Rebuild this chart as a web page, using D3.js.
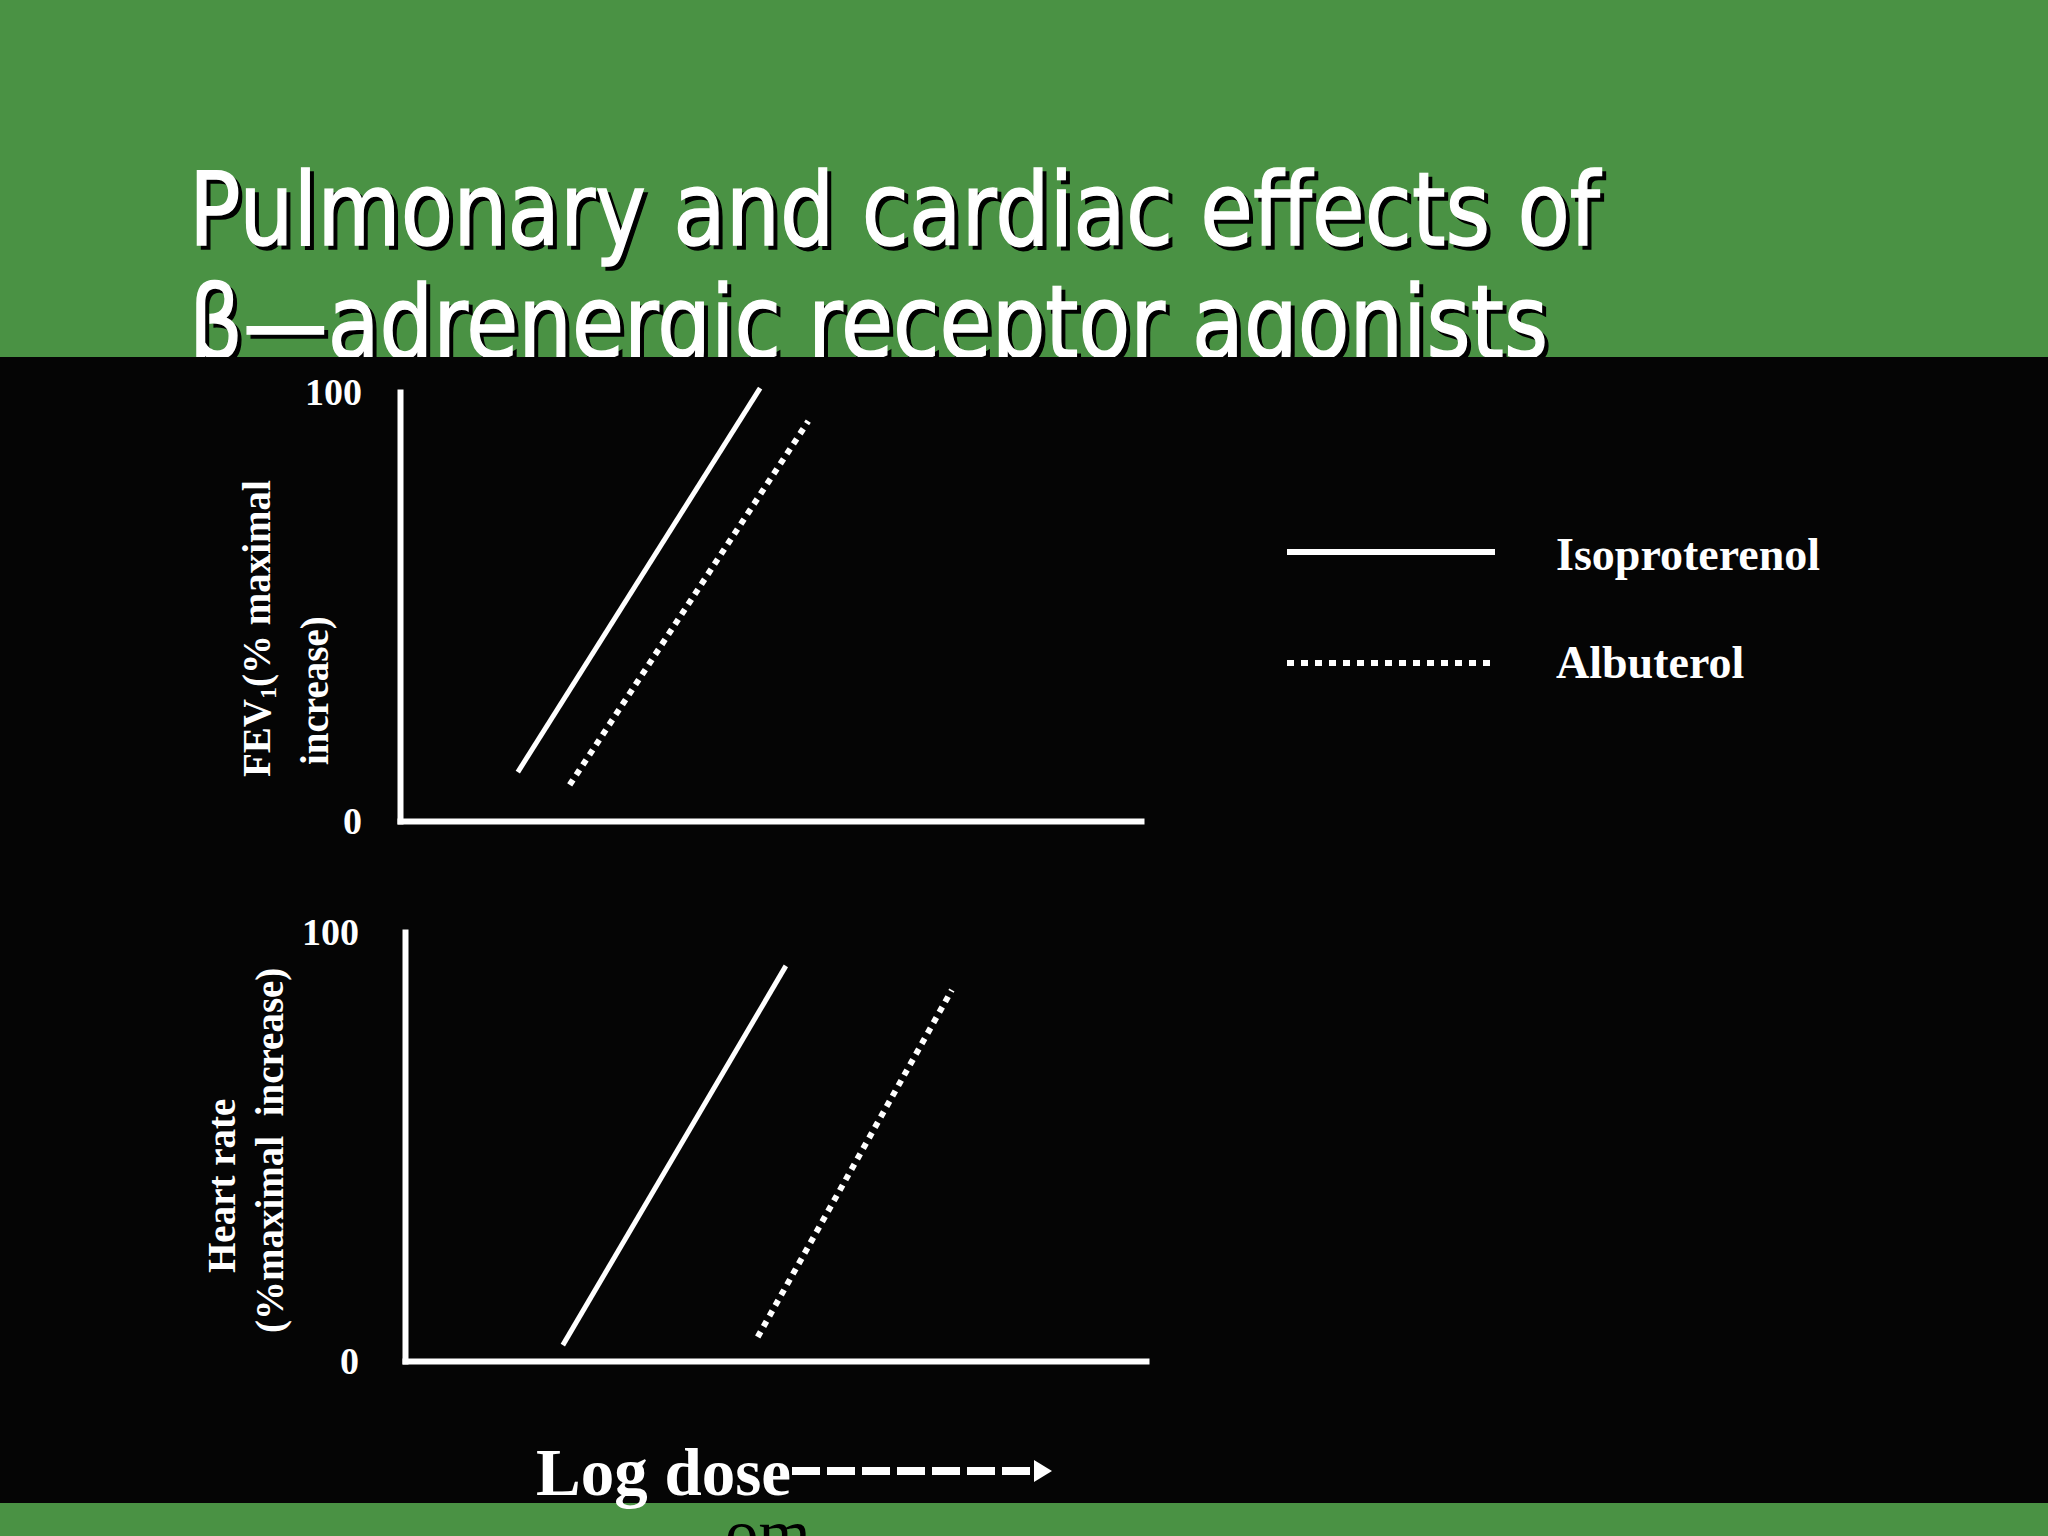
<!DOCTYPE html>
<html>
<head>
<meta charset="utf-8">
<script src="https://cdn.jsdelivr.net/npm/d3@7"></script>
<style>
  html, body { margin: 0; padding: 0; background: #4a9244; }
  svg { display: block; }
</style>
</head>
<body>
<script>
// ---- data ----
const titleLines = ["Pulmonary and cardiac effects of", "\u03B2\u2014adrenergic receptor agonists"];
const seriesNames = ["Isoproterenol", "Albuterol"];
const yTickValues = [0, 100];
// log-dose positions (arbitrary units 0..10) and % maximal increase, end points of each line
const fevIsoproterenolX = [1.59, 4.86];
const fevIsoproterenolY = [11.4, 100.9];
const fevAlbuterolX = [2.29, 5.51];
const fevAlbuterolY = [8.4, 93.2];
const hrIsoproterenolX = [2.13, 5.14];
const hrIsoproterenolY = [3.7, 92.1];
const hrAlbuterolX = [4.76, 7.38];
const hrAlbuterolY = [5.6, 86.5];

const W = 2048, H = 1536;
const green = "#4a9244";
const serif = "'Liberation Serif', 'Times New Roman', serif";

const svg = d3.select("body").append("svg").attr("width", W).attr("height", H);
svg.append("rect").attr("width", W).attr("height", H).attr("fill", green);

// title (drawn before the black panel so the panel clips its second line)
const titleG = svg.append("g");
const titleYs = [245, 358];
const titleLens = [1411, 1359];
titleLines.forEach((t, i) => {
  [["#000", 4], ["#fff", 0]].forEach(([c, o]) => {
    titleG.append("text")
      .attr("x", 189 + o).attr("y", titleYs[i] + o)
      .attr("textLength", titleLens[i]).attr("lengthAdjust", "spacingAndGlyphs")
      .attr("font-family", "'DejaVu Sans', sans-serif")
      .attr("font-size", 102)
      .attr("fill", c)
      .attr("stroke", c).attr("stroke-width", 1.5)
      .text(t);
  });
});

// black panel
svg.append("rect").attr("x", 0).attr("y", 357).attr("width", W).attr("height", 1503 - 357).attr("fill", "#050505");

function panel(xRange, yRange, pad, isoX, isoY, albX, albY, labelLines) {
  const x = d3.scaleLinear().domain([0, 10]).range(xRange);
  const y = d3.scaleLinear().domain([0, 100]).range(yRange);
  const g = svg.append("g");

  const xAxis = g.append("g").attr("transform", `translate(0,${yRange[0]})`)
    .call(d3.axisBottom(x).tickValues([]).tickSizeOuter(0));
  const yAxis = g.append("g").attr("transform", `translate(${xRange[0]},0)`)
    .call(d3.axisLeft(y).tickValues(yTickValues).tickSize(0).tickPadding(pad).tickFormat(d3.format("d")));
  [xAxis, yAxis].forEach(a => {
    a.select(".domain").attr("stroke", "#fff").attr("stroke-width", 6).attr("stroke-linecap", "square");
    a.selectAll("text").attr("fill", "#fff").attr("font-family", serif)
      .attr("font-weight", "bold").attr("font-size", 38);
  });

  const line = d3.line().x(d => x(d[0])).y(d => y(d[1]));
  g.append("path").datum(d3.zip(isoX, isoY)).attr("d", line)
    .attr("fill", "none").attr("stroke", "#fff").attr("stroke-width", 5);
  g.append("path").datum(d3.zip(albX, albY)).attr("d", line)
    .attr("fill", "none").attr("stroke", "#fff").attr("stroke-width", 6)
    .attr("stroke-dasharray", "6,6");

  labelLines.forEach(l => {
    const t = g.append("text")
      .attr("transform", `translate(${l.x},${l.y}) rotate(-90)`)
      .attr("fill", "#fff").attr("font-family", serif).attr("font-weight", "bold")
      .attr("font-size", 39).style("white-space", "pre");
    l.parts.forEach(p => {
      const ts = t.append("tspan").text(p.t);
      if (p.sub) ts.attr("font-size", 24).attr("dy", 6);
      if (p.after) ts.attr("dy", -6);
    });
  });
}

panel([400, 1141], [821, 392], 38, fevIsoproterenolX, fevIsoproterenolY, fevAlbuterolX, fevAlbuterolY, [
  { x: 270, y: 777, parts: [{ t: "FEV" }, { t: "1", sub: true }, { t: "(% maximal", after: true }] },
  { x: 328, y: 765, parts: [{ t: "increase)" }] }
]);
panel([405, 1146], [1361, 932], 46, hrIsoproterenolX, hrIsoproterenolY, hrAlbuterolX, hrAlbuterolY, [
  { x: 235, y: 1273, parts: [{ t: "Heart rate" }] },
  { x: 283, y: 1333, parts: [{ t: "(%maximal  increase)" }] }
]);

// legend
const legend = svg.append("g");
const legYs = [552, 663];
seriesNames.forEach((n, i) => {
  legend.append("line").attr("x1", 1287).attr("x2", 1495).attr("y1", legYs[i]).attr("y2", legYs[i])
    .attr("stroke", "#fff").attr("stroke-width", 6)
    .attr("stroke-dasharray", i === 1 ? "7,7" : null);
  legend.append("text").attr("x", 1556).attr("y", legYs[i] + (i === 0 ? 18 : 15))
    .attr("fill", "#fff").attr("font-family", serif).attr("font-weight", "bold")
    .attr("font-size", 46).text(n);
});

// bottom "Log dose" with arrow
svg.append("text").attr("x", 725).attr("y", 1556).attr("fill", "#000")
  .attr("font-family", serif).attr("font-size", 67).text("om");
svg.append("line").attr("x1", 792).attr("x2", 1040).attr("y1", 1471).attr("y2", 1471)
  .attr("stroke", "#fff").attr("stroke-width", 8).attr("stroke-dasharray", "28,7");
svg.append("path").attr("d", "M1034,1460 L1052,1471 L1034,1482 Z").attr("fill", "#fff");
svg.append("text").attr("x", 536).attr("y", 1495).attr("fill", "#fff")
  .attr("font-family", serif).attr("font-weight", "bold").attr("font-size", 67).text("Log dose");
</script>
</body>
</html>
